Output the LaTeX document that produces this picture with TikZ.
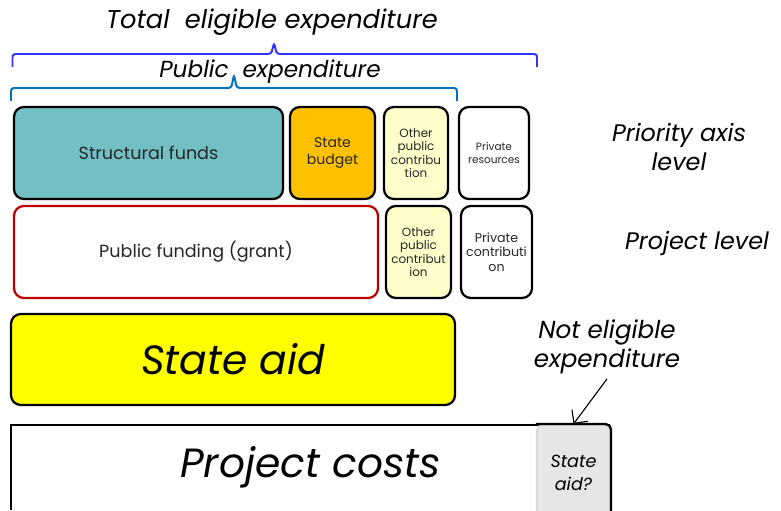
\documentclass[tikz,border=0pt]{standalone}
\usepackage{fontspec}
\setmainfont{Poppins}
\usetikzlibrary{arrows.meta}
\definecolor{myteal}{RGB}{114,191,196}
\definecolor{myorange}{RGB}{255,192,0}
\definecolor{mycream}{RGB}{255,255,204}
\definecolor{myyellow}{RGB}{255,255,0}
\definecolor{myred}{RGB}{192,0,0}
\definecolor{mygray}{RGB}{230,230,230}
\definecolor{mybrace}{RGB}{51,51,255}
\definecolor{mybraceb}{RGB}{0,112,192}
\definecolor{mytext}{RGB}{38,38,38}

\begin{document}
\begin{tikzpicture}[
    box/.style={draw=black, line width=1.6pt, rounded corners=7pt, align=center,
        inner sep=1pt, text=mytext, minimum height=2.3cm},
    lbl/.style={align=center, font=\itshape\fontsize{17}{20}\selectfont},
    brace/.style={line width=1.4pt, rounded corners=2pt}
]
    \useasboundingbox (0,0) rectangle (19.525,12.75);

    % Headings
    \node[lbl, font=\itshape\fontsize{18.3}{22}\selectfont] (total) at (6.8, 12.2) {Total\ \ eligible expenditure};
    \node[lbl, font=\itshape\fontsize{16.5}{20}\selectfont] (public) at (6.75, 10.95) {Public\ \ expenditure};

    % Braces
    \draw[brace, mybrace] (0.3125,11.075) -- (0.3125,11.4) -- (6.78,11.4) -- (6.85,11.68)
        -- (6.92,11.4) -- (13.425,11.4) -- (13.425,11.075);
    \draw[brace, mybraceb] (0.275,10.225) -- (0.275,10.55) -- (5.78,10.55) -- (5.85,10.88)
        -- (5.92,10.55) -- (11.425,10.55) -- (11.425,10.225);

    % Priority axis level
    \node[box, fill=myteal, minimum width=6.725cm, font=\fontsize{12.5}{15}\selectfont] (sf) at (3.7125, 8.925) {Structural funds};
    \node[box, fill=myorange, minimum width=2.125cm, font=\fontsize{10}{12}\selectfont] (sb) at (8.3125, 8.925) {State\\budget};
    \node[box, fill=mycream, minimum width=1.6cm, font=\fontsize{8.5}{9.5}\selectfont] (op) at (10.4, 8.925) {Other\\public\\contribu\\tion};
    \node[box, fill=white, minimum width=1.75cm, font=\fontsize{7.5}{9}\selectfont] (pr) at (12.35, 8.925) {Private\\resources};

    % Project level
    \node[box, draw=myred, fill=white, minimum width=9.1cm, font=\fontsize{12.5}{15}\selectfont] (pf) at (4.9, 6.45) {Public funding (grant)};
    \node[box, fill=mycream, minimum width=1.625cm, font=\fontsize{8.5}{9.5}\selectfont] (opb) at (10.4625, 6.45) {Other\\public\\contribut\\ion};
    \node[box, fill=white, minimum width=1.775cm, font=\fontsize{9}{10.5}\selectfont] (pc) at (12.4125, 6.45) {Private\\contributi\\on};

    % Level labels
    \node[lbl] (axis) at (16.975, 9.075) {Priority axis\\level};
    \node[lbl] (proj) at (17.425, 6.65) {Project level};

    % State aid
    \node[box, fill=myyellow, minimum width=11.1cm, minimum height=2.275cm, text=black,
        font=\itshape\fontsize{29}{34}\selectfont] (aid) at (5.825, 3.7625) {State aid};

    % Project costs
    \node[fill=white, minimum width=14.975cm, minimum height=2.125cm,
        font=\itshape\fontsize{29}{34}\selectfont] (costs) at (7.7625, 1.0625) {Project costs};
    \draw[line width=1.6pt] (costs.south west) -- (costs.north west) -- (costs.north east);
    \node[fill=mygray, draw=gray!30, line width=1.5pt, rounded corners=4pt, minimum width=1.825cm,
        minimum height=2.4cm, align=center, font=\itshape\fontsize{12.5}{16}\selectfont] (sa) at (14.3375, 0.925) {State\\aid?};
    \draw[line width=1.6pt, rounded corners=4pt] (sa.north west) -- (sa.north east) -- (sa.south east);

    % Not eligible
    \node[lbl, font=\itshape\fontsize{17.5}{20.5}\selectfont] (noteleg) at (15.175, 4.075) {Not eligible\\expenditure};
    \draw[-{Straight Barb[length=7pt]}, line width=0.8pt] (noteleg.south) -- (sa.north);
\end{tikzpicture}
\end{document}
